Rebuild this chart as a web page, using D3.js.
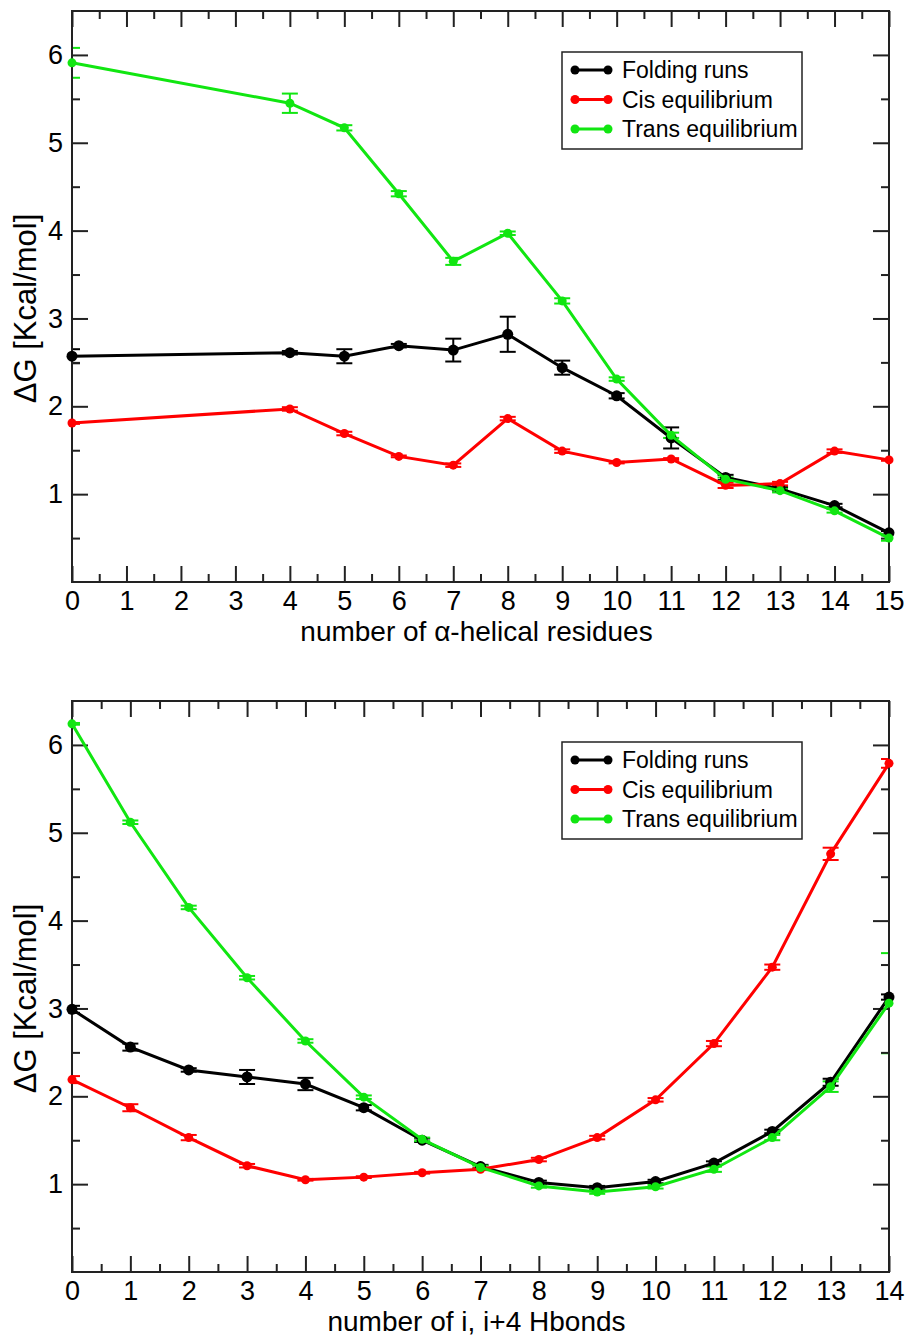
<!DOCTYPE html>
<html>
<head>
<meta charset="utf-8">
<script src="https://cdn.jsdelivr.net/npm/d3@7"></script>
<style>
  body { margin: 0; background: #fff; }
  text { font-family: "Liberation Sans", Arial, sans-serif; fill: #000; }
</style>
</head>
<body>
<div id="chart"></div>
<script>
// top panel: number of alpha-helical residues
var topX = [0, 4, 5, 6, 7, 8, 9, 10, 11, 12, 13, 14, 15];
var topFolding    = [2.57, 2.61, 2.57, 2.69, 2.64, 2.82, 2.44, 2.12, 1.64, 1.19, 1.06, 0.87, 0.56];
var topFoldingErr = [0.08, 0.02, 0.08, 0.02, 0.13, 0.20, 0.08, 0.03, 0.12, 0.03, 0.02, 0.02, 0.02];
var topCis        = [1.81, 1.97, 1.69, 1.43, 1.33, 1.86, 1.49, 1.36, 1.40, 1.10, 1.12, 1.49, 1.39];
var topCisErr     = [0.01, 0.02, 0.02, 0.01, 0.02, 0.02, 0.02, 0.01, 0.01, 0.03, 0.02, 0.02, 0.01];
var topTrans      = [5.91, 5.45, 5.17, 4.42, 3.65, 3.97, 3.20, 2.31, 1.67, 1.17, 1.04, 0.81, 0.50];
var topTransErr   = [0.17, 0.11, 0.03, 0.03, 0.04, 0.02, 0.03, 0.02, 0.03, 0.02, 0.02, 0.02, 0.03];

// bottom panel: number of i, i+4 Hbonds
var botX = [0, 1, 2, 3, 4, 5, 6, 7, 8, 9, 10, 11, 12, 13, 14];
var botFolding    = [2.99, 2.56, 2.30, 2.22, 2.14, 1.87, 1.50, 1.20, 1.02, 0.96, 1.03, 1.24, 1.60, 2.16, 3.13];
var botFoldingErr = [0.04, 0.04, 0.02, 0.08, 0.07, 0.03, 0.02, 0.02, 0.02, 0.02, 0.02, 0.02, 0.02, 0.04, 0.03];
var botCis        = [2.19, 1.87, 1.53, 1.21, 1.05, 1.08, 1.13, 1.17, 1.28, 1.53, 1.96, 2.60, 3.47, 4.76, 5.79];
var botCisErr     = [0.04, 0.04, 0.03, 0.02, 0.01, 0.01, 0.01, 0.01, 0.02, 0.02, 0.02, 0.03, 0.03, 0.07, 0.05];
var botTrans      = [6.24, 5.12, 4.15, 3.35, 2.63, 1.99, 1.51, 1.19, 0.98, 0.91, 0.97, 1.17, 1.53, 2.11, 3.06];
var botTransErr   = [0.01, 0.02, 0.02, 0.02, 0.02, 0.02, 0.02, 0.02, 0.02, 0.02, 0.02, 0.03, 0.03, 0.06, 0.57];

var seriesNames = ["Folding runs", "Cis equilibrium", "Trans equilibrium"];
var colors = ["#000000", "#ff0000", "#11e611"];
var yTicks = [1, 2, 3, 4, 5, 6];
var yLabel = "\u0394G [Kcal/mol]";

var W = 908, H = 1337;

var svg = d3.select("#chart")
  .append("svg")
    .attr("width", W)
    .attr("height", H);

svg.append("rect").attr("width", W).attr("height", H).attr("fill", "#fff");

function drawPanel(id, top, xs, series, errs, xMax, xTitle) {
  var left = 72, right = 889, bottom = top + 571;

  var x = d3.scaleLinear().domain([0, xMax]).range([left, right]);
  var y = d3.scaleLinear().domain([0, 6.5]).range([bottom, top]);

  var g = svg.append("g");

  g.append("clipPath").attr("id", id)
    .append("rect")
      .attr("x", left).attr("y", top)
      .attr("width", right - left).attr("height", bottom - top);

  var sets = series.map(function(vals, k) {
    return xs.map(function(xv, i) { return { x: xv, y: vals[i], e: errs[k][i] } });
  });

  // error bars first, clipped to the frame
  sets.forEach(function(data, k) {
    var col = colors[k];
    var cap = 8;
    var eb = g.append("g").attr("clip-path", "url(#" + id + ")");
    eb.selectAll("vert")
      .data(data).enter()
      .append("line")
        .attr("x1", function(d){ return x(d.x) })
        .attr("x2", function(d){ return x(d.x) })
        .attr("y1", function(d){ return y(d.y - d.e) })
        .attr("y2", function(d){ return y(d.y + d.e) })
        .attr("stroke", col).attr("stroke-width", 2);
    eb.selectAll("capTop")
      .data(data).enter()
      .append("line")
        .attr("x1", function(d){ return x(d.x) - cap })
        .attr("x2", function(d){ return x(d.x) + cap })
        .attr("y1", function(d){ return y(d.y + d.e) })
        .attr("y2", function(d){ return y(d.y + d.e) })
        .attr("stroke", col).attr("stroke-width", 2);
    eb.selectAll("capBot")
      .data(data).enter()
      .append("line")
        .attr("x1", function(d){ return x(d.x) - cap })
        .attr("x2", function(d){ return x(d.x) + cap })
        .attr("y1", function(d){ return y(d.y - d.e) })
        .attr("y2", function(d){ return y(d.y - d.e) })
        .attr("stroke", col).attr("stroke-width", 2);
  });

  // ticks inward on all four sides
  var majorX = d3.range(0, xMax + 1);
  var minorX = d3.range(0.5, xMax, 1);
  var minorY = d3.range(0.5, 6.5, 1);

  g.append("g")
    .attr("transform", "translate(0," + bottom + ")")
    .call(d3.axisBottom(x).tickValues(majorX).tickSize(-16).tickPadding(9).tickFormat(d3.format("d")));
  g.append("g")
    .attr("transform", "translate(0," + bottom + ")")
    .call(d3.axisBottom(x).tickValues(minorX).tickSize(-8).tickFormat(""));
  g.append("g")
    .attr("transform", "translate(0," + top + ")")
    .call(d3.axisTop(x).tickValues(majorX).tickSize(-16).tickFormat(""));
  g.append("g")
    .attr("transform", "translate(0," + top + ")")
    .call(d3.axisTop(x).tickValues(minorX).tickSize(-8).tickFormat(""));

  g.append("g")
    .attr("transform", "translate(" + left + ",0)")
    .call(d3.axisLeft(y).tickValues(yTicks).tickSize(-16).tickPadding(9).tickFormat(d3.format("d")));
  g.append("g")
    .attr("transform", "translate(" + left + ",0)")
    .call(d3.axisLeft(y).tickValues(minorY).tickSize(-8).tickFormat(""));
  g.append("g")
    .attr("transform", "translate(" + right + ",0)")
    .call(d3.axisRight(y).tickValues(yTicks).tickSize(-16).tickFormat(""));
  g.append("g")
    .attr("transform", "translate(" + right + ",0)")
    .call(d3.axisRight(y).tickValues(minorY).tickSize(-8).tickFormat(""));

  g.selectAll(".domain").remove();
  g.selectAll(".tick line").attr("stroke", "#222").attr("stroke-width", 2);
  g.selectAll(".tick text").style("font-size", "27px").style("font-family", "Liberation Sans, Arial, sans-serif").attr("fill", "#000");

  // frame
  g.append("rect")
    .attr("x", left).attr("y", top)
    .attr("width", right - left).attr("height", bottom - top)
    .attr("fill", "none")
    .attr("stroke", "#222")
    .attr("stroke-width", 2);

  var line = d3.line()
    .x(function(d){ return x(d.x) })
    .y(function(d){ return y(d.y) });

  sets.forEach(function(data, k) {
    var col = colors[k];
    var r = k == 0 ? 5.5 : 4.5;

    g.append("path")
      .datum(data)
      .attr("d", line)
      .attr("fill", "none")
      .attr("stroke", col)
      .attr("stroke-width", 3);

    g.selectAll("dots" + k)
      .data(data).enter()
      .append("circle")
        .attr("cx", function(d){ return x(d.x) })
        .attr("cy", function(d){ return y(d.y) })
        .attr("r", r)
        .attr("fill", col);
  });

  // axis titles
  g.append("text")
    .attr("x", (left + right) / 2 - 4)
    .attr("y", bottom + 59)
    .attr("text-anchor", "middle")
    .style("font-size", "28px")
    .text(xTitle);

  g.append("text")
    .attr("transform", "translate(36," + ((top + bottom) / 2 + 12) + ") rotate(-90)")
    .attr("text-anchor", "middle")
    .style("font-size", "31px")
    .text(yLabel);

  // legend
  var lx = 562, ly = top + 41;
  g.append("rect")
    .attr("x", lx).attr("y", ly)
    .attr("width", 240).attr("height", 97)
    .attr("fill", "#fff")
    .attr("stroke", "#222")
    .attr("stroke-width", 1.5);

  seriesNames.forEach(function(name, k) {
    var cy = ly + 18 + k * 29.5;
    g.append("line")
      .attr("x1", lx + 13).attr("x2", lx + 46)
      .attr("y1", cy).attr("y2", cy)
      .attr("stroke", colors[k]).attr("stroke-width", 3);
    [lx + 13, lx + 46].forEach(function(cx) {
      g.append("circle").attr("cx", cx).attr("cy", cy).attr("r", 4.5).attr("fill", colors[k]);
    });
    g.append("text")
      .attr("x", lx + 60)
      .attr("y", cy + 8)
      .style("font-size", "23px")
      .text(name);
  });
}

drawPanel("clipTop", 11, topX,
  [topFolding, topCis, topTrans],
  [topFoldingErr, topCisErr, topTransErr],
  15, "number of \u03b1-helical residues");

drawPanel("clipBot", 701, botX,
  [botFolding, botCis, botTrans],
  [botFoldingErr, botCisErr, botTransErr],
  14, "number of i, i+4 Hbonds");
</script>
</body>
</html>
